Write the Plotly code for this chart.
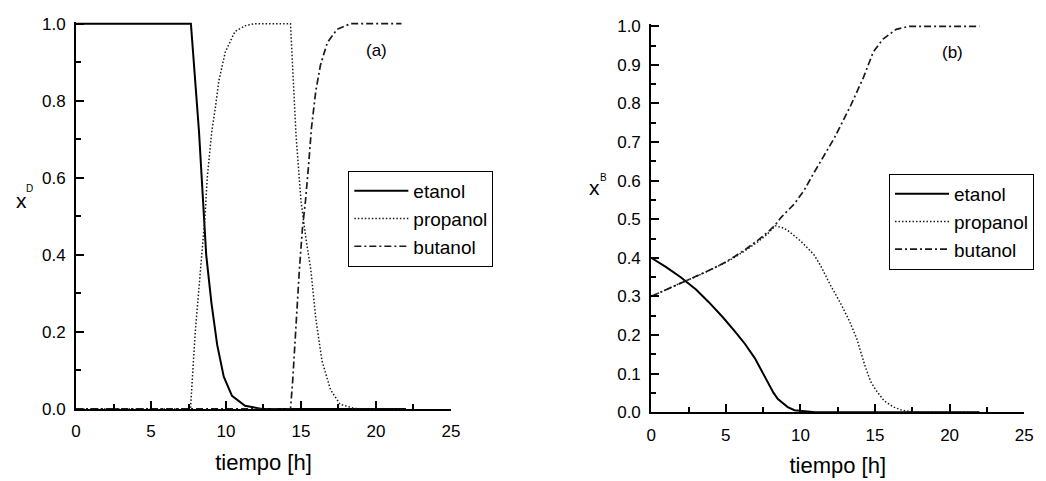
import plotly.graph_objects as go

# ---------------- data: panel (a) distillate composition xD ----------------
t_eta_a = [0, 7.66, 8.2, 8.45, 8.68, 9.03, 9.41, 9.85, 10.4, 11.27, 12.4, 22]
x_eta_a = [1.0, 1.0, 0.72, 0.55, 0.40, 0.275, 0.167, 0.084, 0.034, 0.0085, 0.0, 0.0]

t_pro_a = [0, 7.63, 7.95, 8.4, 8.6, 8.75, 9.05, 9.3, 9.52, 9.95, 10.6, 11.3, 11.93,
           14.3, 14.45, 14.67, 15.0, 15.22, 15.33, 15.66, 15.99, 16.4, 16.97, 17.6, 18.5, 19.0, 22]
x_pro_a = [0.0, 0.0, 0.2, 0.4, 0.5, 0.6, 0.72, 0.785, 0.851, 0.926, 0.98, 0.995, 1.0,
           1.0, 0.876, 0.71, 0.54, 0.467, 0.442, 0.36, 0.234, 0.125, 0.05, 0.0125, 0.002, 0.0, 0.0]

t_but_a = [0, 14.3, 14.45, 14.67, 14.89, 15.1, 15.3, 15.5, 15.7, 15.99, 16.3, 16.76, 17.4, 18.3, 21.7]
x_but_a = [0.0, 0.0, 0.075, 0.234, 0.36, 0.47, 0.54, 0.63, 0.73, 0.826, 0.893, 0.951, 0.985, 1.0, 1.0]

# ---------------- data: panel (b) bottoms composition xB ----------------
t_eta_b = [0, 1, 2, 3, 3.86, 4.8, 5.62, 6.3, 6.94, 7.4, 7.82, 8.2, 8.49, 9.15, 9.6, 10.5, 11, 22]
x_eta_b = [0.4, 0.376, 0.349, 0.318, 0.285, 0.246, 0.209, 0.176, 0.14, 0.108, 0.075, 0.05,
           0.034, 0.013, 0.005, 0.001, 0.0, 0.0]

t_pro_b = [0, 1, 2.1, 3, 3.86, 4.8, 5.62, 6.4, 7.16, 7.8, 8.31, 8.8, 9.15, 10.03, 10.91,
           11.35, 12.0, 12.68, 13.3, 13.78, 14.33, 14.7, 15.1, 15.6, 16.2, 16.8, 17.3, 18, 22]
x_pro_b = [0.3, 0.318, 0.337, 0.351, 0.366, 0.384, 0.402, 0.421, 0.442, 0.462, 0.483, 0.478,
           0.471, 0.443, 0.408, 0.38, 0.33, 0.283, 0.235, 0.19, 0.12, 0.08, 0.055, 0.03,
           0.014, 0.005, 0.002, 0.0, 0.0]

t_but_b = [0, 1, 2.1, 3, 3.86, 4.8, 5.62, 6.4, 7.16, 7.8, 8.31, 8.71, 9.6, 10.25, 10.9,
           12.24, 13.34, 14.22, 14.88, 15.54, 16.42, 17.3, 22]
x_but_b = [0.3, 0.318, 0.3375, 0.352, 0.367, 0.385, 0.404, 0.424, 0.446, 0.466, 0.485, 0.505,
           0.54, 0.575, 0.62, 0.708, 0.792, 0.867, 0.933, 0.967, 0.992, 1.0, 1.0]

names = ["etanol", "propanol", "butanol"]

W, H = 1046, 481
FONT = "Liberation Sans, Arial, sans-serif"

def px_x(p):
    return p / W

def px_y(p):
    return 1 - p / H

line_styles = [
    dict(color="black", width=2, dash="solid"),
    dict(color="#1a1a1a", width=1.5, dash="1.5px,2px"),
    dict(color="#1a1a1a", width=1.7, dash="7px,3px,2px,3px"),
]

fig = go.Figure()

panel_a = [(t_eta_a, x_eta_a), (t_pro_a, x_pro_a), (t_but_a, x_but_a)]
panel_b = [(t_eta_b, x_eta_b), (t_pro_b, x_pro_b), (t_but_b, x_but_b)]

for i, (t, x) in enumerate(panel_a):
    fig.add_trace(go.Scatter(x=t, y=x, mode="lines", name=names[i], line=line_styles[i],
                             xaxis="x", yaxis="y", legend="legend"))
for i, (t, x) in enumerate(panel_b):
    fig.add_trace(go.Scatter(x=t, y=x, mode="lines", name=names[i], line=line_styles[i],
                             xaxis="x2", yaxis="y2", legend="legend2"))

axis_common = dict(
    showgrid=False, zeroline=False, showline=True, linecolor="black", linewidth=2,
    ticks="inside", ticklen=8, tickwidth=1.5, tickcolor="black",
    tickfont=dict(family=FONT, size=17, color="black"),
)
minor_x = dict(dtick=2.5, ticks="inside", ticklen=5, tickwidth=1.5, tickcolor="black")

ya_top = 1.005
fig.update_layout(
    width=W, height=H,
    margin=dict(l=0, r=0, t=0, b=0),
    paper_bgcolor="white", plot_bgcolor="white",
    font=dict(family=FONT, color="black"),
    xaxis=dict(domain=[px_x(72), px_x(452)], range=[0, 25], dtick=5, tick0=0, minor=minor_x,
               title=dict(text="tiempo [h]", font=dict(family=FONT, size=22), standoff=14),
               anchor="y", ticklabelstandoff=6, **axis_common),
    yaxis=dict(domain=[px_y(416.7), px_y(416.7 - ya_top * 399.4)], range=[0, ya_top],
               dtick=0.2, tick0=0, tickformat=".1f",
               minor=dict(dtick=0.1, ticks="inside", ticklen=5, tickwidth=1.5, tickcolor="black"),
               anchor="x", ticklabelstandoff=5, **axis_common),
    xaxis2=dict(domain=[px_x(655), px_x(1033)], range=[0, 25], dtick=5, tick0=0, minor=minor_x,
                title=dict(text="tiempo [h]", font=dict(family=FONT, size=22), standoff=14),
                anchor="y2", ticklabelstandoff=6, **axis_common),
    yaxis2=dict(domain=[px_y(420), px_y(420 - ya_top * 400)], range=[0, ya_top],
                dtick=0.1, tick0=0, tickformat=".1f",
                minor=dict(dtick=0.05, ticks="inside", ticklen=5, tickwidth=1.5, tickcolor="black"),
                anchor="x2", ticklabelstandoff=5, **axis_common),
    legend=dict(x=px_x(348), y=px_y(170), xanchor="left", yanchor="top",
                bordercolor="black", borderwidth=1, bgcolor="white", itemwidth=54,
                font=dict(family=FONT, size=19, color="black"), tracegroupgap=0),
    legend2=dict(x=px_x(896), y=px_y(173), xanchor="left", yanchor="top",
                 bordercolor="black", borderwidth=1, bgcolor="white", itemwidth=54,
                 font=dict(family=FONT, size=19, color="black"), tracegroupgap=0),
    showlegend=True,
)

annots = [
    ("(a)", 377, 45, 17),
    ("(b)", 960, 47, 17),
    ("x", 16.7, 201, 21),
    ("D", 24.5, 188.5, 10),
    ("x", 597.5, 187, 21),
    ("B", 606.5, 176.5, 10),
]
for text, xp, yp, fs in annots:
    fig.add_annotation(text=text, x=px_x(xp), y=px_y(yp), xref="paper", yref="paper",
                       showarrow=False, xanchor="center", yanchor="middle",
                       font=dict(family=FONT, size=fs, color="black"))

fig.write_html("out.html")
